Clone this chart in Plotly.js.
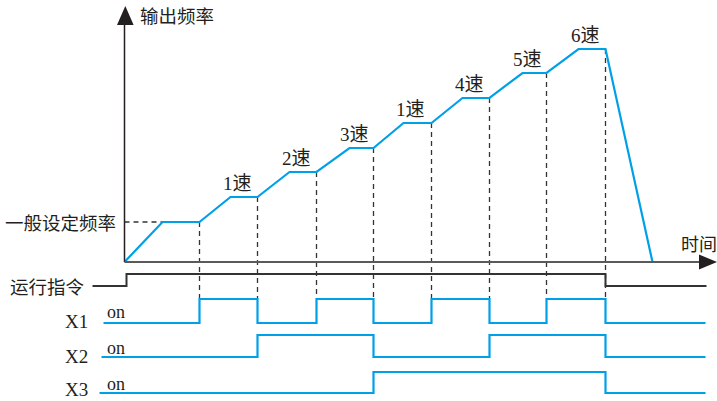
<!DOCTYPE html>
<html><head><meta charset="utf-8">
<script src="https://cdn.plot.ly/plotly-3.0.1.min.js"></script>
<style>html,body{margin:0;padding:0;background:#fff}#chart{width:717px;height:401px}</style>
</head><body><div id="chart"></div>
<script>
// ---- data (time units along the time axis, frequency units up the frequency axis) ----
const freqTime  = [0, 38, 75, 106, 133, 165, 192, 225, 249, 279, 307, 338, 365, 398, 422, 454, 481, 528];
const freqValue = [0, 40, 40, 65, 65, 90, 90, 114, 114, 139, 139, 164, 164, 189, 189, 213, 213, 0];
const speedLabels = ['1速','2速','3速','1速','4速','5速','6速'];
const speedStart  = [106, 165, 225, 279, 338, 398, 454];
const speedEnd    = [133, 192, 249, 307, 365, 422, 481];
const speedValue  = [65, 90, 114, 139, 164, 189, 213];
const generalFreq = 40;
const generalStart = 38;
const switchTimes = [75, 133, 192, 249, 307, 365, 422, 481];
const runTime  = [-32, 2, 481, 582];
const runLevel = [0, 1, 0, 0];
const x1Time  = [-21, 75, 133, 192, 249, 307, 365, 422, 481, 581];
const x1Level = [0, 1, 0, 1, 0, 1, 0, 1, 0, 0];
const x2Time  = [-23, 133, 249, 365, 481, 581];
const x2Level = [0, 1, 0, 1, 0, 0];
const x3Time  = [-25, 249, 481, 581];
const x3Level = [0, 1, 0, 0];
const signalNames = ['X1', 'X2', 'X3'];
const axisLabels = {freq: '输出频率', time: '时间', general: '一般设定频率', run: '运行指令', on: 'on'};

// ---- geometry ----
const W = 717, H = 401;
const BLUE = '#00a0e9', DARK = '#231f20', GRAY = '#5a5a5a';
const px = x => x / W, py = y => 1 - y / H;
function levelRange(lowPx, highPx) {
  const f0 = 1 - lowPx / H, f1 = 1 - highPx / H, u = f1 - f0;
  return [-f0 / u, (1 - f0) / u];
}
const dashBottom = 262 - 298;
const CJK = '"Noto Sans CJK SC", sans-serif';
const SERIF = '"Liberation Serif", "Noto Sans CJK SC", serif';

const dashX = [], dashY = [];
const dashTop = [generalFreq].concat(speedValue);
switchTimes.forEach((t, i) => { dashX.push(t, t, null); dashY.push(dashTop[i], dashBottom, null); });
dashX.push(0, generalStart); dashY.push(generalFreq, generalFreq);

const traces = [
  {x: dashX, y: dashY, mode: 'lines', line: {color: '#333', width: 1.3, dash: '5px,4px'}, yaxis: 'y'},
  {x: freqTime, y: freqValue, mode: 'lines', line: {color: BLUE, width: 2.2}, yaxis: 'y'},
  {x: runTime, y: runLevel, mode: 'lines', line: {color: '#333', width: 2, shape: 'hv'}, yaxis: 'y2'},
  {x: x1Time, y: x1Level, mode: 'lines', line: {color: BLUE, width: 2.2, shape: 'hv'}, yaxis: 'y3'},
  {x: x2Time, y: x2Level, mode: 'lines', line: {color: BLUE, width: 2.2, shape: 'hv'}, yaxis: 'y4'},
  {x: x3Time, y: x3Level, mode: 'lines', line: {color: BLUE, width: 2.2, shape: 'hv'}, yaxis: 'y5'}
];

const hidden = {visible: false, fixedrange: true};
const annotations = [];
speedLabels.forEach((s, i) => annotations.push({
  x: (speedStart[i] + speedEnd[i]) / 2, y: speedValue[i], xref: 'x', yref: 'y',
  text: s, showarrow: false, xshift: -7, yshift: 14, yanchor: 'middle',
  font: {family: SERIF, size: 19, color: DARK}
}));
const txt = (t, x, y, xa, fam, size) => ({x: px(x), y: py(y), xref: 'paper', yref: 'paper', text: t,
  showarrow: false, xanchor: xa, yanchor: 'middle', borderpad: 0, font: {family: fam, size: size, color: DARK}});
annotations.push(txt(axisLabels.freq, 139, 15, 'left', CJK, 18.5));
annotations.push(txt(axisLabels.time, 680, 243, 'left', CJK, 18));
annotations.push(txt(axisLabels.general, 4, 222, 'left', CJK, 18.5));
annotations.push(txt(axisLabels.run, 9, 286, 'left', CJK, 18.5));
const nameY = [321, 356, 389], onY = [312, 348, 384];
signalNames.forEach((n, i) => {
  annotations.push(txt(n, 89, nameY[i], 'right', SERIF, 19));
  annotations.push(txt(axisLabels.on, 106, onY[i], 'left', SERIF, 18));
});

const shapes = [
  {type: 'line', xref: 'x', yref: 'y', x0: 0, x1: 0, y0: 0, y1: 262 - 22, line: {color: DARK, width: 1.5}},
  {type: 'line', xref: 'x', yref: 'y', x0: 0, x1: 700 - 124.5, y0: 0, y1: 0, line: {color: GRAY, width: 2}},
  {type: 'path', xref: 'paper', yref: 'paper', fillcolor: DARK, line: {width: 0},
   path: `M${px(117)},${py(25)} L${px(125.3)},${py(6)} L${px(133.6)},${py(25)} Z`},
  {type: 'path', xref: 'paper', yref: 'paper', fillcolor: DARK, line: {width: 0},
   path: `M${px(699)},${py(254.5)} L${px(717)},${py(262)} L${px(699)},${py(269.5)} Z`}
];

const layout = {
  width: W, height: H, margin: {l: 0, r: 0, t: 0, b: 0},
  paper_bgcolor: '#fff', plot_bgcolor: '#fff', showlegend: false, hovermode: false,
  xaxis: Object.assign({range: [-124.5, W - 124.5]}, hidden),
  yaxis: Object.assign({range: [262 - H, 262]}, hidden),
  yaxis2: Object.assign({range: levelRange(286, 274), overlaying: 'y'}, hidden),
  yaxis3: Object.assign({range: levelRange(323, 299), overlaying: 'y'}, hidden),
  yaxis4: Object.assign({range: levelRange(357, 335), overlaying: 'y'}, hidden),
  yaxis5: Object.assign({range: levelRange(393, 372), overlaying: 'y'}, hidden),
  annotations: annotations, shapes: shapes
};
Plotly.newPlot('chart', traces, layout, {staticPlot: true, displayModeBar: false});
</script></body></html>
